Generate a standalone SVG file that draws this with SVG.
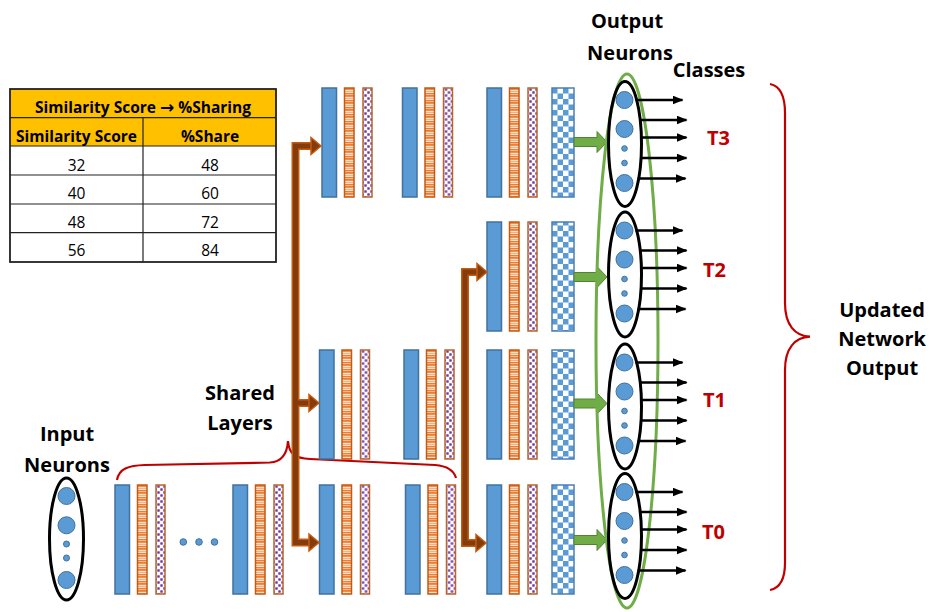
<svg xmlns="http://www.w3.org/2000/svg" xmlns:xlink="http://www.w3.org/1999/xlink" width="931" height="612" viewBox="0 0 931 612">
<style>
.lbl{font-family:"Open Sans","Liberation Sans",sans-serif;font-weight:700;font-size:20px;fill:#000;text-anchor:middle}
.tl{font-family:"Open Sans","Liberation Sans",sans-serif;font-weight:700;font-size:20px;fill:#C00000}
.th{font-family:"Open Sans","Liberation Sans","DejaVu Sans",sans-serif;font-weight:700;font-size:15.5px;fill:#000;text-anchor:middle}
.td{font-family:"Open Sans","Liberation Sans",sans-serif;font-size:15.5px;fill:#000;text-anchor:middle}
.arr{font-family:"DejaVu Sans",sans-serif;font-weight:700;font-size:17px}
.blue{fill:#5B9BD5;stroke:#41719C;stroke-width:1.5}
.orng{fill:url(#stripes);stroke:#C55A11;stroke-width:1.5}
.purp{fill:url(#dots);stroke:#B8652A;stroke-width:1.5}
.chk{fill:url(#checker);stroke:#4A7FB5;stroke-width:1.5}
.neu{fill:#5B9BD5;stroke:#41719C;stroke-width:1}
.oval{fill:none;stroke:#000;stroke-width:3}
.out{stroke:#000;stroke-width:2.5;fill:none;marker-end:url(#ah)}
.brace{fill:none;stroke:#C00000;stroke-width:2.2}
.bo{fill:none;stroke:#C55A11;stroke-width:8;stroke-linejoin:miter}
.bi{fill:none;stroke:#843C0C;stroke-width:5;stroke-linejoin:miter}
.bh{fill:#843C0C;stroke:#C55A11;stroke-width:1.5;stroke-linejoin:miter}
.ga{fill:#70AD47;stroke:#548235;stroke-width:1}
.grid{stroke:#222;stroke-width:1.2}
</style>
<defs>
<pattern id="stripes" patternUnits="userSpaceOnUse" width="10" height="7">
<rect width="10" height="7" fill="#FCE0CC"/>
<rect y="0" width="10" height="1.8" fill="#ED7D31"/>
<rect y="3" width="10" height="1" fill="#F4B183"/>
<rect y="5" width="10" height="1.4" fill="#ED7D31"/>
</pattern>
<pattern id="dots" patternUnits="userSpaceOnUse" width="6" height="6">
<rect width="6" height="6" fill="#fff"/>
<rect x="0.3" y="0.3" width="2.4" height="2.4" fill="#7030A0"/>
<rect x="3.3" y="3.3" width="2.4" height="2.4" fill="#7030A0"/>
</pattern>
<pattern id="checker" patternUnits="userSpaceOnUse" x="552" y="0" width="11" height="11">
<rect width="11" height="11" fill="#fff"/>
<rect width="5.5" height="5.5" fill="#5B9BD5"/>
<rect x="5.5" y="5.5" width="5.5" height="5.5" fill="#5B9BD5"/>
</pattern>
<marker id="ah" markerWidth="11" markerHeight="9" refX="10" refY="4.5" orient="auto" markerUnits="userSpaceOnUse">
<path d="M0,0 L11,4.5 L0,9 z" fill="#000"/>
</marker>
<g id="lu">
<rect class="blue" x="0" y="0" width="14.5" height="109"/>
<rect class="orng" x="22.5" y="0" width="9.5" height="109"/>
<rect class="purp" x="41" y="0" width="9" height="109"/>
</g>
<g id="outn">
<circle class="neu" cx="0" cy="-44" r="8.5"/>
<circle class="neu" cx="0" cy="-15" r="8.5"/>
<circle class="neu" cx="0" cy="4.5" r="2.8"/>
<circle class="neu" cx="0" cy="19" r="2.8"/>
<circle class="neu" cx="0" cy="39" r="8.5"/>
<ellipse class="oval" cx="0.5" cy="0" rx="16.5" ry="62.5"/>
<line class="out" x1="11" y1="-44" x2="58" y2="-44"/>
<line class="out" x1="15" y1="-24" x2="62" y2="-24"/>
<line class="out" x1="16" y1="-6.5" x2="62" y2="-6.5"/>
<line class="out" x1="16" y1="14" x2="62" y2="14"/>
<line class="out" x1="13" y1="34.5" x2="61" y2="34.5"/>
</g>
</defs>

<g id="table">
<rect x="10" y="89" width="266" height="57" fill="#FFC000"/>
<rect x="10" y="146" width="266" height="116" fill="#fff"/>
<line class="grid" x1="10" y1="117.7" x2="276" y2="117.7"/>
<line class="grid" x1="10" y1="146" x2="276" y2="146"/>
<line class="grid" x1="10" y1="175" x2="276" y2="175"/>
<line class="grid" x1="10" y1="204" x2="276" y2="204"/>
<line class="grid" x1="10" y1="232.7" x2="276" y2="232.7"/>
<line class="grid" x1="143" y1="117.7" x2="143" y2="262"/>
<rect x="10" y="89" width="266" height="173" fill="none" stroke="#222" stroke-width="1.8"/>
<text class="th" x="143" y="113">Similarity Score <tspan class="arr">→</tspan> %Sharing</text>
<text class="th" x="76.5" y="141.5">Similarity Score</text>
<text class="th" x="210" y="141.5">%Share</text>
<text class="td" x="76.5" y="170.5">32</text><text class="td" x="210" y="170.5">48</text>
<text class="td" x="76.5" y="199">40</text><text class="td" x="210" y="199">60</text>
<text class="td" x="76.5" y="227.5">48</text><text class="td" x="210" y="227.5">72</text>
<text class="td" x="76.5" y="256">56</text><text class="td" x="210" y="256">84</text>
</g>

<g id="input-neurons">
<circle class="neu" cx="66.5" cy="496" r="8.5"/>
<circle class="neu" cx="66.5" cy="525.3" r="8.5"/>
<circle class="neu" cx="66.5" cy="544" r="3"/>
<circle class="neu" cx="66.5" cy="558" r="3"/>
<circle class="neu" cx="66.5" cy="580" r="8.5"/>
<ellipse class="oval" cx="66.5" cy="539" rx="17" ry="61"/>
<text class="lbl" x="67" y="441">Input</text>
<text class="lbl" x="67" y="472">Neurons</text>
</g>

<g id="shared-layers">
<use href="#lu" x="115" y="485"/>
<circle class="neu" cx="183.3" cy="542" r="3.3"/>
<circle class="neu" cx="199" cy="542" r="3.3"/>
<circle class="neu" cx="214.5" cy="542" r="3.3"/>
<use href="#lu" x="233" y="485"/>
<path class="brace" d="M117,480 C119,469 128,465.5 145,465 L270,462.5 C281,462 287,455 288,441 C289,454 295,458.5 310,459 L435,465 C448,466 454,471 456,478"/>
<text class="lbl" x="240" y="400">Shared</text>
<text class="lbl" x="240" y="430">Layers</text>
</g>

<g id="task-T3-layers">
<use href="#lu" x="322" y="88"/>
<use href="#lu" x="402.5" y="88"/>
<use href="#lu" x="487" y="88"/>
<rect class="chk" x="552" y="88" width="22" height="109"/>
</g>
<g id="task-T2-layers">
<use href="#lu" x="487" y="222"/>
<rect class="chk" x="552" y="222" width="22" height="109"/>
</g>
<g id="task-T1-layers">
<use href="#lu" x="319.5" y="350"/>
<use href="#lu" x="404" y="350"/>
<use href="#lu" x="487" y="350"/>
<rect class="chk" x="552" y="350" width="22" height="109"/>
</g>
<g id="task-T0-layers">
<use href="#lu" x="319.5" y="485"/>
<use href="#lu" x="405.5" y="485"/>
<use href="#lu" x="487" y="485"/>
<rect class="chk" x="552" y="485" width="22" height="109"/>
</g>

<g id="connectors">
<path class="bo" d="M312,146 L295.5,146 L295.5,542.5 L310,542.5 M295.5,403 L310,403"/>
<path class="bo" d="M478,272 L465,272 L465,543 L477,543"/>
<path class="bi" d="M312,146 L295.5,146 L295.5,542.5 L310,542.5 M295.5,403 L310,403"/>
<path class="bi" d="M478,272 L465,272 L465,543 L477,543"/>
<polygon class="bh" points="311,137.5 321,146 311,154.5"/>
<polygon class="bh" points="309,394.5 319,403 309,411.5"/>
<polygon class="bh" points="309,534 319,542.5 309,551"/>
<polygon class="bh" points="477,263.5 487,272 477,280.5"/>
<polygon class="bh" points="476,534.5 486,543 476,551.5"/>
<polygon class="ga" points="574,137.5 597,137.5 597,131.5 607,142 597,152.5 597,146.5 574,146.5"/>
<polygon class="ga" points="574,272.5 597,272.5 597,266.5 607,277 597,287.5 597,281.5 574,281.5"/>
<polygon class="ga" points="574,399 597,399 597,393 607,403.5 597,414 597,408 574,408"/>
<polygon class="ga" points="574,535.5 597,535.5 597,529.5 607,540 597,550.5 597,544.5 574,544.5"/>
</g>

<g id="output-neurons">
<ellipse cx="627" cy="341" rx="31" ry="267" fill="none" stroke="#70AD47" stroke-width="3"/>
<use href="#outn" x="624.5" y="144"/>
<use href="#outn" x="624.5" y="274.5"/>
<use href="#outn" x="624.5" y="406.5"/>
<use href="#outn" x="624.5" y="536"/>
<text class="lbl" x="627" y="28">Output</text>
<text class="lbl" x="630" y="60">Neurons</text>
<text class="lbl" x="709" y="76.5">Classes</text>
<text class="tl" x="707" y="144.5">T3</text>
<text class="tl" x="703" y="277">T2</text>
<text class="tl" x="703" y="406.5">T1</text>
<text class="tl" x="702" y="539">T0</text>
</g>

<g id="network-output">
<path class="brace" d="M770,84 C780,86 785,95 785,113 L785,303 C785,325 795,336 810,336.7 C795,337.4 785,348 785,370 L785,563 C785,580 780,588 770,590" stroke-width="2.5"/>
<text class="lbl" x="882" y="317">Updated</text>
<text class="lbl" x="882" y="346">Network</text>
<text class="lbl" x="882" y="375">Output</text>
</g>
</svg>
